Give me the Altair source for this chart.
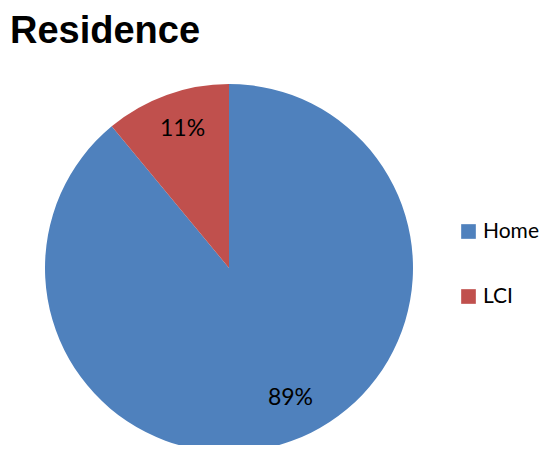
import altair as alt
import pandas as pd

categories = ["Home", "LCI"]
values = [89, 11]
labels = ["89%", "11%"]
colors = ["#4F81BD", "#C0504D"]
title_text = ["Residence"]

df = pd.DataFrame({"cat": categories, "val": values, "label": labels, "ord": [0, 1]})
tdf = pd.DataFrame({"t": title_text})

CX, CY, R = 221, 260, 184

base = alt.Chart(df).encode(
    theta=alt.Theta("val:Q", stack=True),
    order=alt.Order("ord:Q"),
)

pie = base.mark_arc(outerRadius=R, stroke=None).encode(
    x=alt.value(CX),
    y=alt.value(CY),
    color=alt.Color(
        "cat:N",
        scale=alt.Scale(domain=categories, range=colors),
        legend=alt.Legend(
            title=None,
            orient="none",
            legendX=450,
            legendY=213,
            symbolType="square",
            symbolSize=215,
            symbolStrokeWidth=0,
            labelFontSize=21,
            labelFont="Lato",
            labelColor="#000000",
            labelOffset=4,
            rowPadding=43,
            padding=0,
        ),
    ),
)

def label_layer(cat, dx, dy):
    return base.mark_text(
        radius=146, fontSize=23, font="Lato", color="#000000", dx=dx, dy=dy
    ).encode(
        x=alt.value(CX),
        y=alt.value(CY),
        text="label:N",
        opacity=alt.condition(alt.datum.cat == cat, alt.value(1), alt.value(0)),
    )

lab_home = label_layer("Home", 12, -7)
lab_lci = label_layer("LCI", 3, -2)

title = alt.Chart(tdf).mark_text(
    align="left", baseline="alphabetic", fontSize=38, font="Liberation Sans",
    fontWeight="bold", color="#000000"
).encode(
    x=alt.value(2),
    y=alt.value(35),
    text="t:N",
)

chart = (
    alt.layer(pie, lab_home, lab_lci, title)
    .properties(
        width=535,
        height=437,
        padding=0,
        autosize=alt.AutoSizeParams(type="none"),
    )
    .configure_view(stroke=None)
)

chart.save("out.html", embed_options={"renderer": "svg", "actions": False})
